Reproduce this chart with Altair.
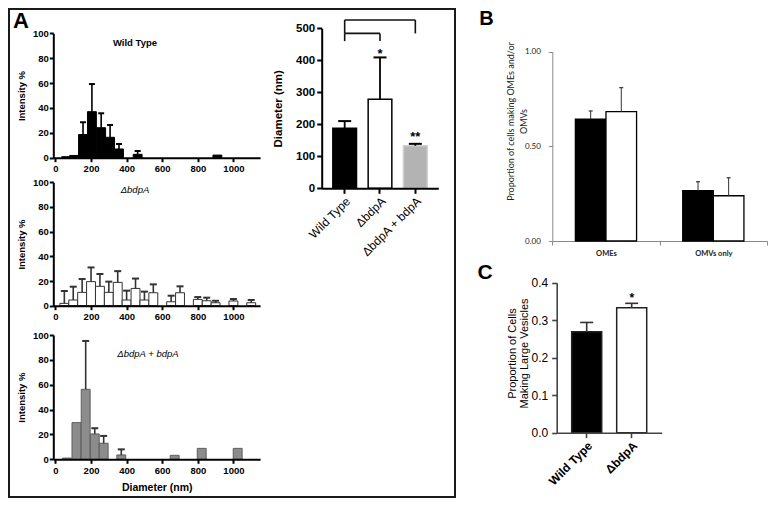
import altair as alt
import pandas as pd

# ---------------- data ----------------
# Panel A histograms (bin centre in nm, intensity %, SD)
wt_centers = [60, 105, 155, 205, 257, 307, 357, 462, 910]
wt_values = [0.8, 1.8, 18.6, 37.0, 24.1, 16.4, 7.0, 2.7, 2.1]
wt_errors = [0, 0, 9.9, 22.2, 11.6, 9.9, 4.0, 2.7, 0]

mut_centers = [50, 100, 150, 200, 250, 300, 350, 400, 450, 500, 550, 650, 700, 800, 850, 900, 1000, 1100]
mut_values = [1.9, 4.6, 10.8, 19.5, 15.7, 10.8, 18.9, 4.6, 14.0, 4.6, 10.5, 3.2, 10.5, 5.1, 4.0, 2.4, 3.8, 2.4]
mut_errors = [10.0, 10.8, 10.8, 11.5, 10.0, 8.7, 9.1, 7.6, 8.0, 6.8, 6.8, 4.9, 5.2, 1.9, 2.5, 1.6, 1.6, 2.2]

comp_centers = [65, 118, 170, 221, 271, 370, 670, 822, 1024]
comp_values = [1.0, 29.5, 56.3, 20.4, 12.9, 3.5, 3.2, 8.8, 8.8]
comp_errors = [0, 0, 38.9, 4.6, 5.9, 4.5, 0, 0, 0]

hist_ticks_x = [0, 200, 400, 600, 800, 1000]
hist_ticks_y = [0, 20, 40, 60, 80, 100]

# Panel A bar chart
strains = ["Wild Type", "ΔbdpA", "ΔbdpA + bdpA"]
diam_mean = [187.5, 278.0, 133.0]
diam_err = [22.5, 131.0, 6.0]
diam_ticks = [0, 100, 200, 300, 400, 500]
bracket_levels = [526, 484, 460]

# Panel B
ome_categories = ["OMEs", "OMVs only"]
ome_wt = [0.644, 0.266]
ome_wt_err = [0.043, 0.047]
ome_mut = [0.683, 0.239]
ome_mut_err = [0.127, 0.095]
ome_ticks = [0.0, 0.5, 1.0]

# Panel C
large_strains = ["Wild Type", "ΔbdpA"]
large_mean = [0.269, 0.333]
large_err = [0.025, 0.012]
large_ticks = [0.0, 0.1, 0.2, 0.3, 0.4]

# ---------------- layout ----------------
W, H = 760, 490
ARIAL = "Liberation Sans"
CALIBRI = "Lato"


def P(v):
    return v - 8


def gp_axis(**kw):
    base = dict(grid=False, domainColor="black", domainWidth=2, tickColor="black", tickWidth=2,
                labelColor="black", labelFont=ARIAL, labelFontWeight="bold", titleFont=ARIAL,
                titleFontWeight="bold", titleColor="black", labelFlush=False, labelOverlap=False,
                zindex=1)
    base.update(kw)
    return alt.Axis(**base)


def histogram(centers, values, errors, y0, y100, fill, stroke, err_color, cap, title, tx, ty,
              tstyle, tweight, xtitle):
    df = pd.DataFrame({"center": centers, "value": values, "err": errors})
    df["lo"] = df["center"] - 25
    df["hi"] = df["center"] + 25
    df["base"] = 0.0
    df["top"] = df["value"] + df["err"]
    edf = df[df["err"] > 0]
    xs = alt.Scale(domain=[-12, 1150], range=[P(53.3), P(260.1)], nice=False, zero=False)
    ys = alt.Scale(domain=[0, 100], range=[P(y0), P(y100)], nice=False)
    xkw = dict(orient="bottom", offset=P(y0) - H, values=hist_ticks_x, format="d", tickSize=4,
               labelFontSize=9.5, labelPadding=2)
    if xtitle:
        xkw.update(title=xtitle, titleFontSize=10.5, titleY=28, titleBaseline="middle")
    else:
        xkw.update(title=None)
    xaxis = gp_axis(**xkw)
    yaxis = gp_axis(orient="left", offset=-P(53.3), values=hist_ticks_y, format="d", tickSize=4,
                    labelFontSize=9.5, labelPadding=1, title="Intensity %", titleFontSize=9.5,
                    titleX=21 - 53.3, titleBaseline="middle")
    bars = alt.Chart(df).mark_bar(fill=fill, stroke=stroke, strokeWidth=1).encode(
        x=alt.X("lo:Q", scale=xs, axis=xaxis), x2="hi:Q",
        y=alt.Y("value:Q", scale=ys, axis=yaxis), y2="base:Q")
    rules = alt.Chart(edf).mark_rule(color=err_color, strokeWidth=1.6).encode(
        x=alt.X("center:Q", scale=xs, axis=xaxis),
        y=alt.Y("value:Q", scale=ys, axis=yaxis), y2="top:Q")
    caps = alt.Chart(edf).mark_tick(orient="horizontal", color=err_color, size=cap,
                                    thickness=2, opacity=1).encode(
        x=alt.X("center:Q", scale=xs, axis=xaxis),
        y=alt.Y("top:Q", scale=ys, axis=yaxis))
    label = alt.Chart(pd.DataFrame({"x": [tx], "y": [ty], "t": [title]})).mark_text(
        font=ARIAL, fontSize=9.5, fontStyle=tstyle, fontWeight=tweight, color="black").encode(
        x=alt.X("x:Q", scale=xs, axis=xaxis), y=alt.Y("y:Q", scale=ys, axis=yaxis), text="t:N")
    return alt.layer(bars, rules, caps, label)


h1 = histogram(wt_centers, wt_values, wt_errors, 157.7, 33.3, "#000000", "#000000", "#000000",
               6, "Wild Type", 447, 92.2, "normal", "bold", None)
h2 = histogram(mut_centers, mut_values, mut_errors, 305.7, 182.3, "#ffffff", "#333333", "#333333",
               7, "ΔbdpA", 447, 93.8, "italic", "normal", None)
h3 = histogram(comp_centers, comp_values, comp_errors, 459.3, 335.0, "#8c8c8c", "#5e5e5e", "#333333",
               7, "ΔbdpA + bdpA", 520, 85, "italic", "normal", "Diameter (nm)")

# ---- Panel A bar chart ----
ddf = pd.DataFrame({"strain": strains, "mean": diam_mean, "err": diam_err})
ddf["top"] = ddf["mean"] + ddf["err"]
dxs = alt.Scale(domain=strains, range=[P(321.7), P(438.3)], paddingInner=0.33, paddingOuter=0.315)
dys = alt.Scale(domain=[0, 500], range=[P(188.3), P(28.3)], nice=False)
d_xaxis = gp_axis(orient="bottom", offset=P(188.3) - H, title=None, labelAngle=-45,
                  labelFontSize=12, labelFontWeight="normal", tickSize=5, labelPadding=2)
d_yaxis = gp_axis(orient="left", offset=-P(321.7), values=diam_ticks, format="d",
                  title="Diameter (nm)", titleFontSize=11.5, titleX=278 - 321.7,
                  titleBaseline="middle", labelFontSize=11.5, tickSize=5, labelPadding=2)


def dX(field):
    return alt.X(field, scale=dxs, axis=d_xaxis)


def dY(field):
    return alt.Y(field, scale=dys, axis=d_yaxis)


d_fills = ["#000000", "#ffffff", "#b3b3b3"]
d_strokes = ["#000000", "#000000", "#cdcdcd"]
d_layers = []
for i in range(len(strains)):
    d_layers.append(alt.Chart(ddf.iloc[[i]]).mark_bar(fill=d_fills[i], stroke=d_strokes[i],
                                                      strokeWidth=1.5).encode(
        x=dX("strain:N"), y=dY("mean:Q")))
d_layers.append(alt.Chart(ddf).mark_rule(color="black", strokeWidth=1.8).encode(
    x=dX("strain:N"), y=dY("mean:Q"), y2="top:Q"))
d_layers.append(alt.Chart(ddf).mark_tick(orient="horizontal", color="black", size=13,
                                         thickness=2, opacity=1).encode(
    x=dX("strain:N"), y=dY("top:Q")))
bh = pd.DataFrame({"strain": [strains[0], strains[0]], "b": [strains[2], strains[1]],
                   "y": [bracket_levels[0], bracket_levels[1]]})
bv = pd.DataFrame({"strain": [strains[0], strains[2], strains[0], strains[1]],
                   "y1": [bracket_levels[1], bracket_levels[1], bracket_levels[2], bracket_levels[2]],
                   "y2": [bracket_levels[0], bracket_levels[0], bracket_levels[1], bracket_levels[1]]})
d_layers.append(alt.Chart(bh).mark_rule(color="#111111", strokeWidth=1.6).encode(
    x=dX("strain:N"), x2="b:N", y=dY("y:Q")))
d_layers.append(alt.Chart(bv).mark_rule(color="#111111", strokeWidth=1.6).encode(
    x=dX("strain:N"), y=dY("y1:Q"), y2="y2:Q"))
d_layers.append(alt.Chart(ddf.iloc[[1]]).mark_text(text="*", font=ARIAL, fontSize=13,
                                                   fontWeight="bold", baseline="alphabetic",
                                                   dy=1, color="black").encode(
    x=dX("strain:N"), y=dY("top:Q")))
d_layers.append(alt.Chart(ddf.iloc[[2]]).mark_text(text="**", font=ARIAL, fontSize=13,
                                                   fontWeight="bold", baseline="alphabetic",
                                                   dy=-3, color="black").encode(
    x=dX("strain:N"), y=dY("top:Q")))
diam = alt.layer(*d_layers)

# ---- Panel B ----
bdf_wt = pd.DataFrame({"cat": ome_categories, "v": ome_wt, "e": ome_wt_err})
bdf_mut = pd.DataFrame({"cat": ome_categories, "v": ome_mut, "e": ome_mut_err})
for d in (bdf_wt, bdf_mut):
    d["top"] = d["v"] + d["e"]
bxs = alt.Scale(domain=ome_categories, range=[P(552.3), P(767)], paddingInner=0, paddingOuter=0)
bys = alt.Scale(domain=[0, 1], range=[P(241), P(51.7)], nice=False)
b_xaxis = alt.Axis(orient="bottom", offset=P(241) - H, title=None, grid=False, tickBand="extent",
                   domainColor="#8a8a8a", domainWidth=1, tickColor="#8a8a8a", tickWidth=1,
                   tickSize=4, labelFont=CALIBRI, labelFontSize=7.5, labelFontWeight="bold",
                   labelColor="#222222", labelPadding=4, labelAngle=0)
b_yaxis = alt.Axis(orient="left", offset=-P(552.3), values=ome_ticks, format=".2f", grid=False,
                   domainColor="#8a8a8a", domainWidth=1, tickColor="#8a8a8a", tickWidth=1,
                   tickSize=4, labelFont=CALIBRI, labelFontSize=8, labelColor="#222222",
                   labelPadding=8, labelFlush=False, labelOverlap=False,
                   title=["Proportion of cells making OMEs and/or", "OMVs"], titleFont=CALIBRI,
                   titleFontSize=9, titleFontWeight="normal", titleColor="#222222",
                   titleLineHeight=13, titleX=510 - 552.3, titleY=P(121), titleBaseline="middle")


def bX():
    return alt.X("cat:N", scale=bxs, axis=b_xaxis)


def bY(field):
    return alt.Y(field, scale=bys, axis=b_yaxis)


b_layers = []
for d, fill, off in [(bdf_wt, "#000000", -15.3), (bdf_mut, "#ffffff", 15.3)]:
    b_layers.append(alt.Chart(d).mark_bar(fill=fill, stroke="#000000", strokeWidth=1.3,
                                          width=30.6, xOffset=off).encode(
        x=bX(), y=bY("v:Q")))
    b_layers.append(alt.Chart(d).mark_rule(color="#333333", strokeWidth=1, xOffset=off).encode(
        x=bX(), y=bY("v:Q"), y2="top:Q"))
    b_layers.append(alt.Chart(d).mark_tick(orient="horizontal", color="#333333", size=4,
                                           thickness=1.2, opacity=1, xOffset=off).encode(
        x=bX(), y=bY("top:Q")))
ome = alt.layer(*b_layers)

# ---- Panel C ----
cdf = pd.DataFrame({"strain": large_strains, "v": large_mean, "e": large_err})
cdf["top"] = cdf["v"] + cdf["e"]
cxs = alt.Scale(domain=large_strains, range=[P(556.7), P(661.7)], paddingInner=0.333,
                paddingOuter=0.333)
cys = alt.Scale(domain=[0, 0.4], range=[P(432.7), P(282.7)], nice=False)
c_xaxis = gp_axis(orient="bottom", offset=P(432.7) - H, title=None, labelAngle=-45,
                  labelFontSize=12, tickSize=5, labelPadding=2, domainColor="#444444",
                  domainWidth=1.6, tickColor="#444444", tickWidth=1.6)
c_yaxis = gp_axis(orient="left", offset=-P(556.7), values=large_ticks, format=".1f",
                  labelFontSize=12, labelFontWeight="normal", tickSize=5, labelPadding=4,
                  domainColor="#444444", domainWidth=1.6, tickColor="#444444", tickWidth=1.6,
                  title=["Proportion of Cells", "Making Large Vesicles"], titleFontSize=11,
                  titleFontWeight="normal", titleLineHeight=12, titleX=512.5 - 556.7,
                  titleY=P(353), titleBaseline="middle")


def cX():
    return alt.X("strain:N", scale=cxs, axis=c_xaxis)


def cY(field):
    return alt.Y(field, scale=cys, axis=c_yaxis)


c_fills = ["#000000", "#ffffff"]
c_layers = []
for i in range(len(large_strains)):
    c_layers.append(alt.Chart(cdf.iloc[[i]]).mark_bar(fill=c_fills[i], stroke="#222222",
                                                      strokeWidth=1.5).encode(
        x=cX(), y=cY("v:Q")))
c_layers.append(alt.Chart(cdf).mark_rule(color="#333333", strokeWidth=1.6).encode(
    x=cX(), y=cY("v:Q"), y2="top:Q"))
c_layers.append(alt.Chart(cdf).mark_tick(orient="horizontal", color="#333333", size=13,
                                         thickness=1.6, opacity=1).encode(
    x=cX(), y=cY("top:Q")))
c_layers.append(alt.Chart(cdf.iloc[[1]]).mark_text(text="*", font=ARIAL, fontSize=12,
                                                   fontWeight="bold", baseline="alphabetic",
                                                   dy=-1, color="black").encode(
    x=cX(), y=cY("top:Q")))
large = alt.layer(*c_layers)

# ---- frame and panel letters ----
one = pd.DataFrame({"t": ["A"]})
frame = alt.Chart(one).mark_rect(fillOpacity=0, stroke="#1a1a1a", strokeWidth=2).encode(
    x=alt.value(1), x2=alt.value(P(455)), y=alt.value(1), y2=alt.value(H - 1))


def letter(t, x, y, size):
    return alt.Chart(pd.DataFrame({"t": [t]})).mark_text(
        font=ARIAL, fontSize=size, fontWeight="bold", align="center", baseline="middle",
        color="black").encode(x=alt.value(P(x)), y=alt.value(P(y)), text="t:N")


letters = [letter("A", 21, 21, 22), letter("B", 486.5, 19, 20), letter("C", 485, 273, 21)]

chart = alt.layer(frame, h1, h2, h3, diam, ome, large, *letters).resolve_scale(
    x="independent", y="independent"
).properties(
    width=W, height=H, padding=0, autosize=alt.AutoSizeParams(type="none")
).configure_view(strokeWidth=0)

chart.save("out.html", embed_options={"renderer": "svg", "actions": False})
